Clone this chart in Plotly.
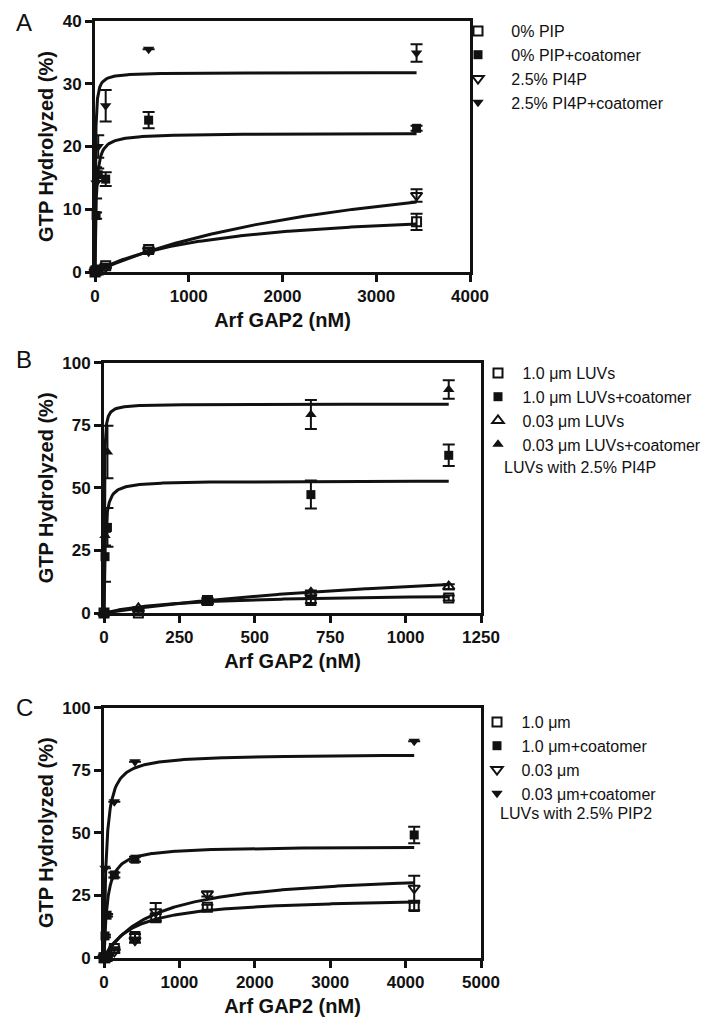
import numpy as np
import plotly.graph_objects as go

INK = "#111111"
FONT = "Liberation Sans, Arial, sans-serif"
# the page adds an 8px body margin around the figure
PAGE_PAD = 8
W, H = 726 - 2 * PAGE_PAD, 1027 - 2 * PAGE_PAD

# ---- Panel A: PIP / PI4P, Arf GAP2 (nM) vs GTP hydrolyzed (%)
A_X = [0, 11.4, 34.3, 114, 572, 3430]
A_PIP = [0, 0.2, 0.3, 1.0, 3.6, 8.0]
A_PIP_ERR = [0, 0, 0, 0.3, 0.3, 1.3]
A_PIP_COAT = [0, 9.0, 15.5, 14.8, 24.2, 22.9]
A_PIP_COAT_ERR = [0, 0.5, 1.0, 1.1, 1.3, 0.4]
A_PI4P = [0, 0.2, 0.4, 0.8, 3.4, 12.2]
A_PI4P_ERR = [0, 0, 0, 0.2, 0.3, 1.0]
A_PI4P_COAT = [0, 14.2, 20.0, 26.5, 35.5, 34.9]
A_PI4P_COAT_ERR = [0, 2.5, 1.8, 2.5, 0, 1.4]
# hyperbolic fits: (Bmax, Kd)
A_FITS = [(10.5, 1274), (22.1, 12), (21.4, 3145), (31.8, 4)]

# ---- Panel B: LUV size, 2.5% PI4P
B_X = [0, 114, 343, 686, 1143]
B_X_COAT = [0, 3.4, 11.4, 686, 1143]
B_LARGE = [0, 0, 5.0, 5.0, 6.0]
B_LARGE_ERR = [0, 0.5, 1.0, 1.0, 1.0]
B_LARGE_COAT = [0, 22.5, 34.2, 47.3, 63.0]
B_LARGE_COAT_ERR = [0, 10, 7.7, 5.6, 4.3]
B_SMALL = [0, 1.8, 4.5, 8.0, 10.5]
B_SMALL_ERR = [0, 0.5, 1.0, 1.0, 1.0]
B_SMALL_COAT = [0, 31.0, 64.3, 79.3, 89.3]
B_SMALL_COAT_ERR = [0, 4.0, 10.5, 5.8, 3.7]
B_FITS = [(8.07, 270), (52.8, 3.4), (24.9, 1362), (83.5, 0.9)]

# ---- Panel C: LUV size, 2.5% PIP2
C_X = [0, 13.7, 41, 137, 411, 686, 1371, 4114]
C_X_COAT = [0, 13.7, 41, 137, 411, 4114]
C_LARGE = [0, 0, 0.5, 3.7, 8.5, 16.0, 20.2, 20.5]
C_LARGE_ERR = [0, 0, 0, 0.5, 1.0, 1.5, 1.0, 1.5]
C_LARGE_COAT = [0, 8.7, 17.0, 33.1, 39.4, 49.1]
C_LARGE_COAT_ERR = [0, 0.5, 0.5, 1.0, 1.0, 3.3]
C_SMALL = [0, 0, 0.5, 2.5, 7.0, 18.4, 25.5, 27.8]
C_SMALL_ERR = [0, 0, 0, 0.5, 1.0, 3.5, 1.0, 5.0]
C_X_SMALL_COAT = [0, 13.7, 137, 411, 4114]
C_SMALL_COAT = [0, 35.8, 62.4, 78.4, 86.6]
C_SMALL_COAT_ERR = [0, 0, 0, 0, 0]
C_FITS = [(24.4, 400), (44.6, 45), (34.9, 675), (81.5, 30)]


def fit_line(bmax, kd, xmax):
    x = np.concatenate([np.linspace(0, xmax * 0.02, 150), np.linspace(xmax * 0.02, xmax, 250)])
    return x, bmax * x / (kd + x)


# page pixel -> paper fraction
def px(v):
    return (v - PAGE_PAD) / W


def py(v):
    return (H - (v - PAGE_PAD)) / H


fig = go.Figure()

SP = "\u00a0"
panels = [
    ("", "legend", [
        (A_X, A_PIP, A_PIP_ERR, "0% PIP", "square-open"),
        (A_X, A_PIP_COAT, A_PIP_COAT_ERR, "0% PIP+coatomer", "square"),
        (A_X, A_PI4P, A_PI4P_ERR, "2.5% PI4P", "triangle-down-open"),
        (A_X, A_PI4P_COAT, A_PI4P_COAT_ERR, "2.5% PI4P+coatomer", "triangle-down"),
    ], A_FITS, 3430, SP * 3),
    ("2", "legend2", [
        (B_X, B_LARGE, B_LARGE_ERR, "1.0 μm LUVs", "square-open"),
        (B_X_COAT, B_LARGE_COAT, B_LARGE_COAT_ERR, "1.0 μm LUVs+coatomer", "square"),
        (B_X, B_SMALL, B_SMALL_ERR, "0.03 μm LUVs", "triangle-up-open"),
        (B_X_COAT, B_SMALL_COAT, B_SMALL_COAT_ERR, "0.03 μm LUVs+coatomer", "triangle-up"),
    ], B_FITS, 1143, SP),
    ("3", "legend3", [
        (C_X, C_LARGE, C_LARGE_ERR, "1.0 μm", "square-open"),
        (C_X_COAT, C_LARGE_COAT, C_LARGE_COAT_ERR, "1.0 μm+coatomer", "square"),
        (C_X, C_SMALL, C_SMALL_ERR, "0.03 μm", "triangle-down-open"),
        (C_X_SMALL_COAT, C_SMALL_COAT, C_SMALL_COAT_ERR, "0.03 μm+coatomer", "triangle-down"),
    ], C_FITS, 4114, SP),
]

for suffix, leg, series, fits, xmax, pad in panels:
    xa, ya = "x" + suffix, "y" + suffix
    for bmax, kd in fits:
        fx, fy = fit_line(bmax, kd, xmax)
        fig.add_trace(go.Scatter(
            x=fx, y=fy, mode="lines", line=dict(color=INK, width=3),
            xaxis=xa, yaxis=ya, showlegend=False, hoverinfo="skip", cliponaxis=False,
        ))
    for x, y, err, name, sym in series:
        is_open = sym.endswith("open")
        # no bar (and no cap) where the SEM is not shown
        err = [e if e > 0 else None for e in err]
        fig.add_trace(go.Scatter(
            x=x, y=y, mode="markers", name=pad + name, legend=leg,
            xaxis=xa, yaxis=ya, cliponaxis=False,
            marker=dict(symbol=sym, size=10 if "triangle" in sym else 9, color=INK,
                        line=dict(color=INK, width=2 if is_open else 0)),
            error_y=dict(type="data", array=err, visible=True, color=INK, thickness=2, width=6),
        ))


def axis(rng, dtick, title, dom, anchor, standoff):
    return dict(
        domain=dom, anchor=anchor, range=rng, dtick=dtick, autorange=False,
        showline=True, linewidth=3, linecolor=INK, mirror=True,
        ticks="outside", ticklen=7, tickwidth=2.5, tickcolor=INK,
        showgrid=False, zeroline=False, automargin=False,
        tickfont=dict(family=FONT, size=17, color=INK, weight="bold"),
        title=dict(text=title, standoff=standoff,
                   font=dict(family=FONT, size=20, color=INK, weight="bold")),
    )


XT, YT = "Arf GAP2 (nM)", "GTP Hydrolyzed (%)"
layout_axes = dict(
    xaxis=axis([0, 4000], 1000, XT, [px(95), px(470)], "y", 8),
    yaxis=axis([0, 40], 10, YT, [py(272), py(21)], "x", 4),
    xaxis2=axis([0, 1250], 250, XT, [px(104), px(481)], "y2", 8),
    yaxis2=axis([0, 100], 25, YT, [py(613), py(362.7)], "x2", 4),
    xaxis3=axis([0, 5000], 1000, XT, [px(104), px(481)], "y3", 8),
    yaxis3=axis([0, 100], 25, YT, [py(957.7), py(707.7)], "x3", 4),
)


def legend(x0, ytop):
    return dict(x=px(x0), y=py(ytop), xanchor="left", yanchor="top",
                bgcolor="rgba(0,0,0,0)", tracegroupgap=0, itemwidth=30,
                font=dict(family=FONT, size=16, color=INK))


annotations = [
    dict(text=t, x=px(14), y=py(yy), xref="paper", yref="paper", xanchor="left",
         yanchor="middle", showarrow=False, font=dict(family=FONT, size=24, color=INK))
    for t, yy in [("A", 23), ("B", 359), ("C", 707)]
] + [
    dict(text="LUVs with 2.5% PI4P", x=px(502), y=py(467), xref="paper", yref="paper",
         xanchor="left", yanchor="middle", showarrow=False,
         font=dict(family=FONT, size=16, color=INK)),
    dict(text="LUVs with 2.5% PIP2", x=px(498), y=py(813), xref="paper", yref="paper",
         xanchor="left", yanchor="middle", showarrow=False,
         font=dict(family=FONT, size=16, color=INK)),
]

fig.update_layout(
    width=W, height=H, margin=dict(l=0, r=0, t=0, b=0),
    paper_bgcolor="white", plot_bgcolor="white",
    font=dict(family=FONT, color=INK),
    legend=legend(458, 14), legend2=legend(478, 356), legend3=legend(477, 705),
    annotations=annotations,
    **layout_axes,
)

fig.write_html("out.html")
